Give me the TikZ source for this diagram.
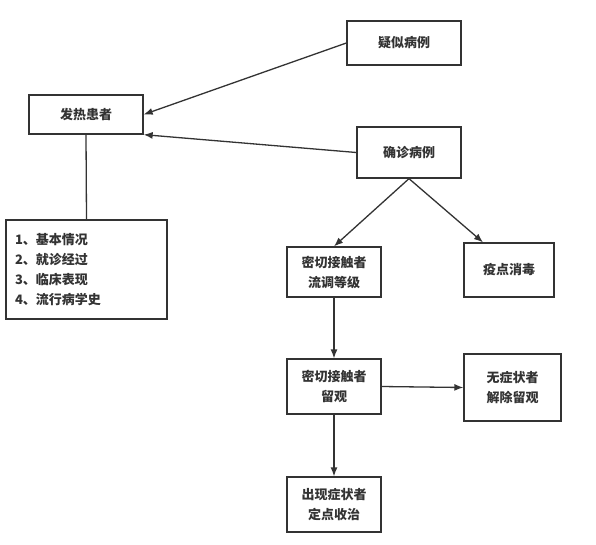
\documentclass[tikz,border=0pt]{standalone}
\usepackage{fontspec}
\setmainfont{Noto Sans CJK SC}
\usetikzlibrary{arrows.meta}
\tikzset{
  box/.style={draw=black!80, line width=1.3pt, fill=white, align=center, inner sep=2pt,
    font=\fontsize{13}{20}\selectfont\bfseries, text=black!80},
  link/.style={draw=black!80, line width=1.3pt, -{Latex[length=9pt,width=7pt]}},
  plain/.style={draw=black!80, line width=1.3pt}
}
\begin{document}
\begin{tikzpicture}[x=1pt,y=-1pt]
\useasboundingbox (0,0) rectangle (596,544);

\node (F) at (86,114.5) [box,minimum width=114pt,minimum height=39pt]{发热患者};
\node (S) at (404,43) [box,minimum width=114pt,minimum height=44pt]{疑似病例};
\node (C) at (409,152.5) [box,minimum width=104pt,minimum height=51pt]{确诊病例};
\node (L) at (86.5,269.5) [box,align=left,text width=143pt,minimum height=99pt,inner xsep=9pt]{1、基本情况\\2、就诊经过\\3、临床表现\\4、流行病学史};
\node (T) at (334,272) [box,minimum width=94pt,minimum height=50pt]{密切接触者\\流调等级};
\node (D) at (509,270) [box,minimum width=90pt,minimum height=54pt]{疫点消毒};
\node (O) at (334,386.5) [box,minimum width=94pt,minimum height=55pt]{密切接触者\\留观};
\node (R) at (512.5,387.5) [box,minimum width=97pt,minimum height=67pt]{无症状者\\解除留观};
\node (P) at (334,504.5) [box,minimum width=94pt,minimum height=55pt]{出现症状者\\定点收治};

\draw[link] (S.west)--(F.east);
\draw[link] (C.west)--(F.south east);
\draw[plain] (F.south)--(L.north);
\draw[link] (C.south)--(T.north);
\draw[link] (C.south)--([xshift=-26pt]D.north);
\draw[link] (T.south)--(O.north);
\draw[link] (O.east)--(R.west);
\draw[link] (O.south)--(P.north);

\end{tikzpicture}
\end{document}
